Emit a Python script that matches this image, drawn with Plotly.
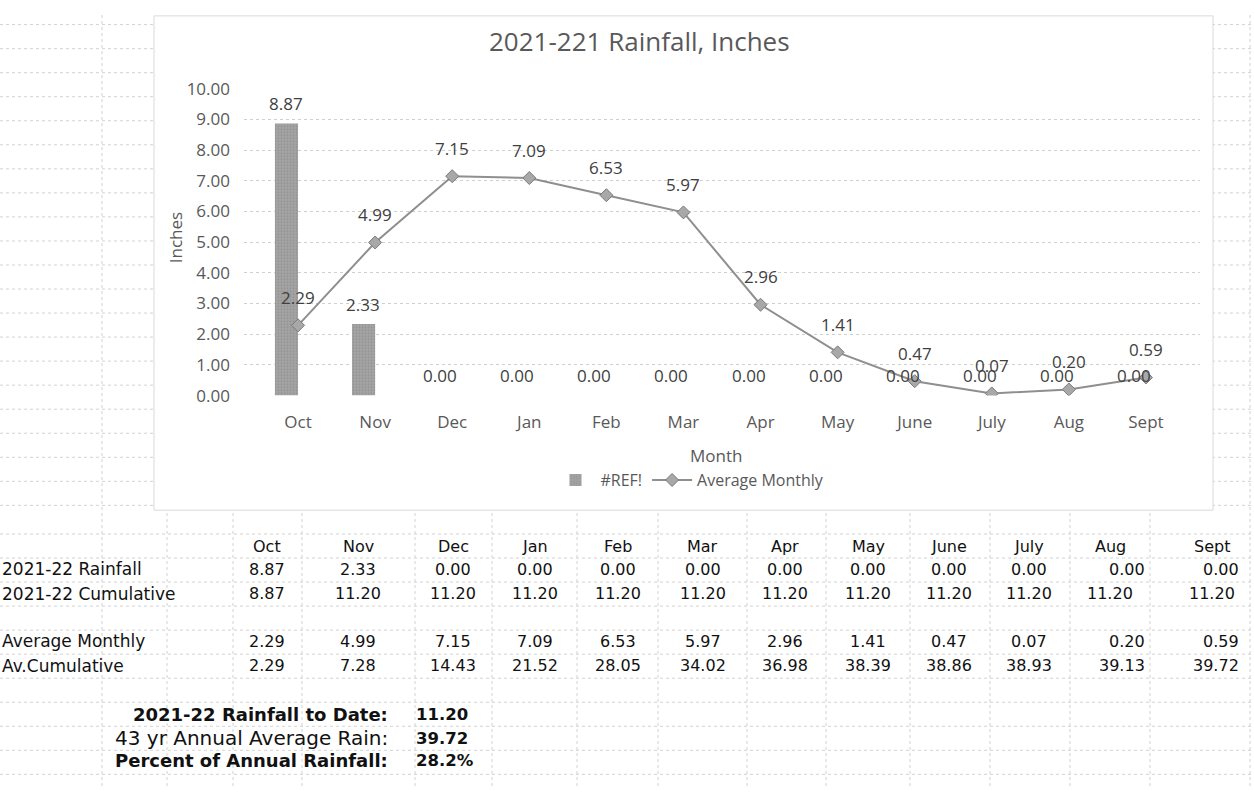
import plotly.graph_objects as go

# ---------------- data ----------------
months = ["Oct", "Nov", "Dec", "Jan", "Feb", "Mar", "Apr", "May", "June", "July", "Aug", "Sept"]
rain_2122 = [8.87, 2.33, 0.00, 0.00, 0.00, 0.00, 0.00, 0.00, 0.00, 0.00, 0.00, 0.00]
cum_2122 = [8.87, 11.20, 11.20, 11.20, 11.20, 11.20, 11.20, 11.20, 11.20, 11.20, 11.20, 11.20]
avg_monthly = [2.29, 4.99, 7.15, 7.09, 6.53, 5.97, 2.96, 1.41, 0.47, 0.07, 0.20, 0.59]
avg_cum = [2.29, 7.28, 14.43, 21.52, 28.05, 34.02, 36.98, 38.39, 38.86, 38.93, 39.13, 39.72]
row_labels = ["2021-22 Rainfall", "2021-22 Cumulative", "Average Monthly", "Av.Cumulative"]
summary_labels = ["2021-22 Rainfall to Date:", "43 yr Annual Average Rain:", "Percent of Annual Rainfall:"]
summary_values = ["11.20", "39.72", "28.2%"]
bar_name = "#REF!"
line_name = "Average Monthly"
title_text = "2021-221 Rainfall, Inches"

# ---------------- layout helpers ----------------
W, H = 1254, 797
def fx(p):
    return p / W
def fy(p):
    return 1 - p / H

GRAY = "#595959"
CHART_FONT = "Open Sans"
TABLE_FONT = "DejaVu Sans"

fig = go.Figure()

fig.add_trace(go.Bar(
    x=months, y=rain_2122, name=bar_name,
    width=0.3, offset=-0.3,
    marker=dict(color="#a3a3a3", line=dict(width=0),
                pattern=dict(shape=".", fgcolor="#7a7a7a", size=3, solidity=0.25)),
    hoverinfo="skip",
))
fig.add_trace(go.Scatter(
    x=months, y=avg_monthly, name=line_name, mode="lines+markers",
    line=dict(color="#8f8f8f", width=2),
    marker=dict(symbol="diamond", size=10, color="#a8a8a8", line=dict(color="#7a7a7a", width=1)),
    hoverinfo="skip",
))

annotations = []

def paper_text(x, y, text, font, xanchor="center", yanchor="middle", **kw):
    annotations.append(dict(x=fx(x), y=fy(y), xref="paper", yref="paper", text=text, showarrow=False,
                            xanchor=xanchor, yanchor=yanchor, font=font, **kw))

# data labels
lab_font = dict(family=CHART_FONT, size=17, color="#404040")
for m, v in zip(months, rain_2122):
    annotations.append(dict(x=m, y=v, xref="x", yref="y", text=f"{v:.2f}", showarrow=False,
                            xanchor="center", yanchor="middle",
                            xshift=-12, yshift=20, font=lab_font))
for m, v in zip(months, avg_monthly):
    annotations.append(dict(x=m, y=v, xref="x", yref="y", text=f"{v:.2f}", showarrow=False,
                            xanchor="center", yanchor="middle",
                            yshift=28, font=lab_font))

# title and axis titles
paper_text(487, 30, title_text, dict(family=CHART_FONT, size=26, color=GRAY), xanchor="left")
paper_text(175, 233, "Inches", dict(family=CHART_FONT, size=17, color=GRAY), textangle=-90)
paper_text(716, 457, "Month", dict(family=CHART_FONT, size=17, color=GRAY))

# ---------------- spreadsheet table ----------------
col_x = [267, 358, 453, 535, 618, 703, 785, 868, 949, 1029, 1110, 1212]
right_edge = {10: 1147, 11: 1241}
header_y = 550
row_y = [574, 599, 648, 673]
row_values = [rain_2122, cum_2122, avg_monthly, avg_cum]
tfont = dict(family=TABLE_FONT, size=16, color="#111111")
lfont = dict(family=TABLE_FONT, size=17, color="#111111")

for m, cx in zip(months, col_x):
    paper_text(cx, header_y, m, tfont)
for r, (lab, ry, vals) in enumerate(zip(row_labels, row_y, row_values)):
    paper_text(0, ry, lab, lfont, xanchor="left")
    for i, (cx, v) in enumerate(zip(col_x, vals)):
        if i in right_edge and r != 1:
            paper_text(right_edge[i], ry, f"{v:.2f}", tfont, xanchor="right")
        else:
            paper_text(cx, ry, f"{v:.2f}", tfont)

summary_y = [723, 748, 771]
for k, (lab, val, sy) in enumerate(zip(summary_labels, summary_values, summary_y)):
    if k == 1:
        paper_text(390, sy, lab, dict(family=TABLE_FONT, size=20, color="#111111"), xanchor="right")
    else:
        paper_text(390, sy, f"<b>{lab}</b>", dict(family=TABLE_FONT, size=18, color="#111111"),
                   xanchor="right")
    paper_text(414, sy, f"<b>{val}</b>", dict(family=TABLE_FONT, size=16.5, color="#111111"), xanchor="left")

# ---------------- background spreadsheet grid + chart frame ----------------
shapes = []
gl = dict(color="#d2d2d2", width=1, dash="dot")
h_lines = [13 + 24.75 * k for k in range(21)] + [537.5 + 24.75 * k for k in range(11)]
for yy in h_lines:
    shapes.append(dict(type="line", xref="paper", yref="paper", x0=0, x1=1, y0=fy(yy), y1=fy(yy),
                       line=gl, layer="below"))
for xx in [102, 1250]:
    shapes.append(dict(type="line", xref="paper", yref="paper", x0=fx(xx), x1=fx(xx), y0=0, y1=1,
                       line=gl, layer="below"))
for xx in [167, 233, 302, 415, 492, 577, 658, 747, 826, 910, 990, 1070, 1150]:
    shapes.append(dict(type="line", xref="paper", yref="paper", x0=fx(xx), x1=fx(xx), y0=0, y1=fy(512),
                       line=gl, layer="below"))
shapes.append(dict(type="rect", xref="paper", yref="paper", x0=fx(154), x1=fx(1213), y0=fy(513), y1=fy(4),
                   fillcolor="white", line=dict(color="#d9d9d9", width=1), layer="below"))

fig.update_layout(
    width=W, height=H, autosize=False,
    margin=dict(l=0, r=0, t=0, b=0),
    paper_bgcolor="white", plot_bgcolor="rgba(0,0,0,0)",
    showlegend=True,
    legend=dict(orientation="h", x=fx(690), xanchor="center", y=fy(482), yanchor="middle",
                font=dict(family=CHART_FONT, size=16, color=GRAY), bgcolor="rgba(0,0,0,0)",
                itemwidth=40),
    xaxis=dict(domain=[fx(244), fx(1200)], type="category", showgrid=False, showline=False,
               zeroline=False, ticks="", ticklabelstandoff=14,
               tickfont=dict(family=CHART_FONT, size=17, color=GRAY)),
    yaxis=dict(domain=[fy(395), fy(79)], range=[0, 10], dtick=1, tickformat=".2f",
               showgrid=True, gridcolor="#cfcfcf", griddash="dot", gridwidth=1,
               zeroline=False, showline=False, ticks="", ticklabelstandoff=13,
               tickfont=dict(family=CHART_FONT, size=17, color=GRAY)),
    annotations=annotations,
    shapes=shapes,
)

fig.write_html("out.html", config={"displayModeBar": False},
               post_script="document.body.style.margin='0px';")
